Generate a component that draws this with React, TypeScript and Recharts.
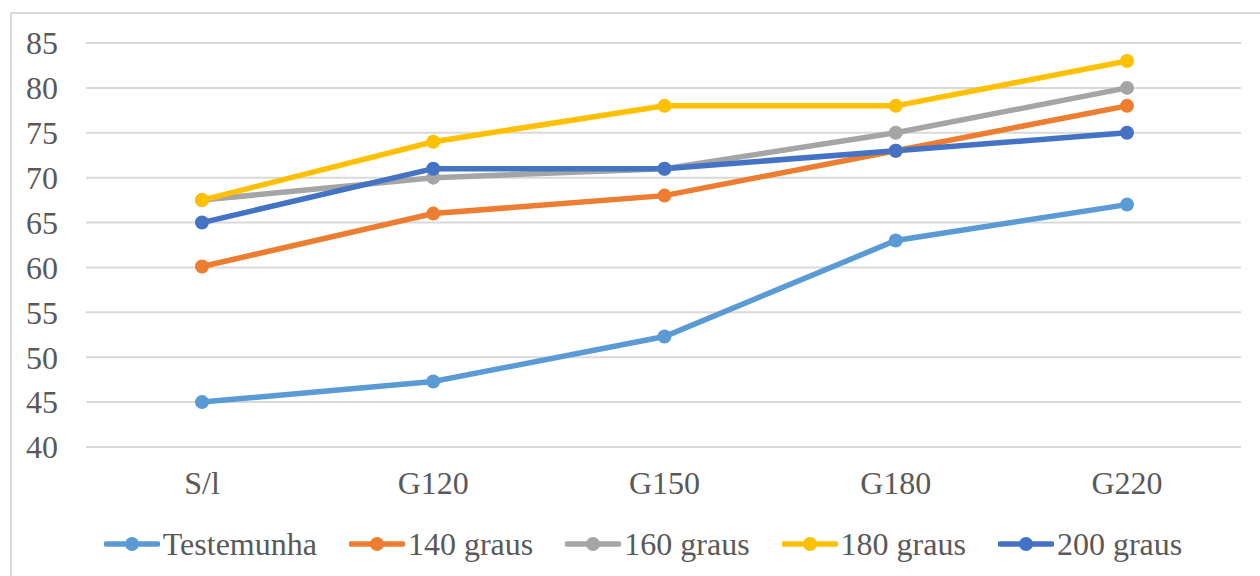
import { LineChart, Line, XAxis, YAxis, CartesianGrid, Legend } from 'recharts'

const categories = ['S/l', 'G120', 'G150', 'G180', 'G220']
const testemunha = [45, 47.3, 52.3, 63, 67]
const graus140 = [60.1, 66, 68, 73, 78]
const graus160 = [67.5, 70, 71, 75, 80]
const graus180 = [67.5, 74, 78, 78, 83]
const graus200 = [65, 71, 71, 73, 75]
const yTicks = [40, 45, 50, 55, 60, 65, 70, 75, 80, 85]

const series = [
  { key: 'testemunha', name: 'Testemunha', color: '#5B9BD5' },
  { key: 'g140', name: '140 graus', color: '#ED7D31' },
  { key: 'g160', name: '160 graus', color: '#A5A5A5' },
  { key: 'g180', name: '180 graus', color: '#FFC000' },
  { key: 'g200', name: '200 graus', color: '#4472C4' },
]

const data = categories.map((c, i) => ({
  name: c,
  testemunha: testemunha[i],
  g140: graus140[i],
  g160: graus160[i],
  g180: graus180[i],
  g200: graus200[i],
}))

const font = '"Liberation Serif", "Times New Roman", serif'

function LegendContent() {
  return (
    <div style={{ display: 'flex', justifyContent: 'center', paddingLeft: 45, height: 36, lineHeight: '36px', fontFamily: font, fontSize: 32, color: '#595959' }}>
      {series.map((s, i) => (
        <div key={s.key} style={{ display: 'flex', alignItems: 'center', marginLeft: i ? 32 : 0 }}>
          <svg width={56} height={16} style={{ marginRight: 3 }}>
            <line x1={2} y1={8} x2={54} y2={8} stroke={s.color} strokeWidth={5.5} strokeLinecap="round" />
            <circle cx={28} cy={8} r={7} fill={s.color} />
          </svg>
          <span>{s.name}</span>
        </div>
      ))}
    </div>
  )
}

export default function App() {
  return (
    <div style={{ position: 'absolute', left: 0, top: 0, width: 1260, height: 576, overflow: 'hidden', background: '#fff' }}>
      <div style={{ position: 'absolute', left: 10, top: 12, width: 1262, height: 580, border: '2px solid #d9d9d9', boxSizing: 'border-box' }} />
      <LineChart
        width={1260}
        height={576}
        data={data}
        margin={{ top: 43, right: 19, left: 0, bottom: 0 }}
        style={{ position: 'absolute', left: 0, top: 0 }}
      >
        <CartesianGrid vertical={false} stroke="#d9d9d9" strokeWidth={2} />
        <XAxis
          dataKey="name"
          axisLine={false}
          tickLine={false}
          tickSize={0}
          tickMargin={24}
          height={93}
          padding={{ left: 116, right: 114 }}
          tick={{ fontFamily: font, fontSize: 32, fill: '#595959' }}
        />
        <YAxis
          domain={[40, 85]}
          ticks={yTicks}
          interval={0}
          width={86}
          axisLine={false}
          tickLine={false}
          tickSize={0}
          tickMargin={28}
          tick={{ fontFamily: font, fontSize: 32, fill: '#595959' }}
        />
        <Legend verticalAlign="bottom" wrapperStyle={{ bottom: 14 }} content={LegendContent} />
        {series.map((s) => (
          <Line
            key={s.key}
            type="linear"
            dataKey={s.key}
            name={s.name}
            stroke={s.color}
            strokeWidth={5.5}
            dot={{ r: 7, fill: s.color, stroke: s.color, strokeWidth: 0 }}
            activeDot={false}
            isAnimationActive={false}
          />
        ))}
      </LineChart>
    </div>
  )
}
